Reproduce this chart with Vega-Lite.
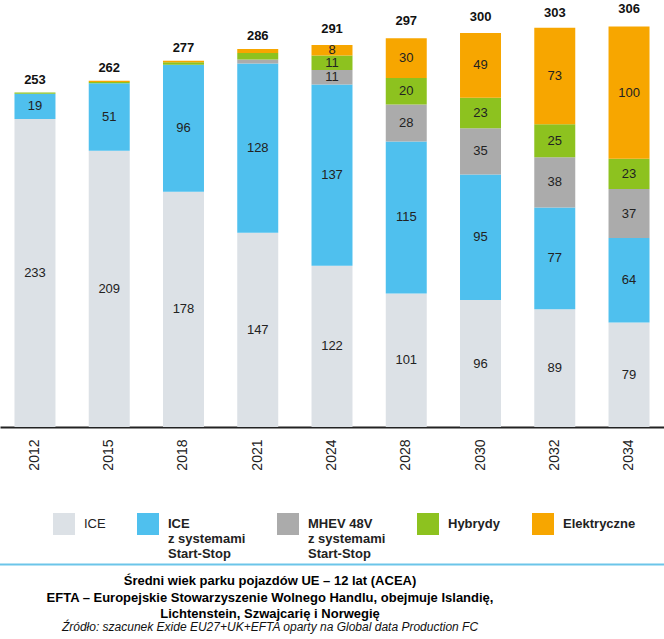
{
  "$schema": "https://vega.github.io/schema/vega-lite/v6.json",
  "width": 664,
  "height": 427,
  "autosize": {"type": "none"},
  "padding": {"left": 0, "top": 0, "right": 0, "bottom": 212},
  "background": "white",
  "config": {"view": {"stroke": null}, "font": "Liberation Sans"},
  "datasets": {
    "seg": [
      {"year": "2012", "cat": "ICE", "order": 1, "value": 233},
      {"year": "2012", "cat": "ICE z systemami Start-Stop", "order": 2, "value": 19},
      {"year": "2012", "cat": "Hybrydy", "order": 4, "value": 1},
      {"year": "2015", "cat": "ICE", "order": 1, "value": 209},
      {"year": "2015", "cat": "ICE z systemami Start-Stop", "order": 2, "value": 51},
      {"year": "2015", "cat": "Hybrydy", "order": 4, "value": 1},
      {"year": "2015", "cat": "Elektryczne", "order": 5, "value": 1},
      {"year": "2018", "cat": "ICE", "order": 1, "value": 178},
      {"year": "2018", "cat": "ICE z systemami Start-Stop", "order": 2, "value": 96},
      {"year": "2018", "cat": "Hybrydy", "order": 4, "value": 2},
      {"year": "2018", "cat": "Elektryczne", "order": 5, "value": 1},
      {"year": "2021", "cat": "ICE", "order": 1, "value": 147},
      {"year": "2021", "cat": "ICE z systemami Start-Stop", "order": 2, "value": 128},
      {"year": "2021", "cat": "MHEV 48V z systemami Start-Stop", "order": 3, "value": 3},
      {"year": "2021", "cat": "Hybrydy", "order": 4, "value": 5},
      {"year": "2021", "cat": "Elektryczne", "order": 5, "value": 3},
      {"year": "2024", "cat": "ICE", "order": 1, "value": 122},
      {"year": "2024", "cat": "ICE z systemami Start-Stop", "order": 2, "value": 137},
      {"year": "2024", "cat": "MHEV 48V z systemami Start-Stop", "order": 3, "value": 11},
      {"year": "2024", "cat": "Hybrydy", "order": 4, "value": 11},
      {"year": "2024", "cat": "Elektryczne", "order": 5, "value": 8},
      {"year": "2028", "cat": "ICE", "order": 1, "value": 101},
      {"year": "2028", "cat": "ICE z systemami Start-Stop", "order": 2, "value": 115},
      {"year": "2028", "cat": "MHEV 48V z systemami Start-Stop", "order": 3, "value": 28},
      {"year": "2028", "cat": "Hybrydy", "order": 4, "value": 20},
      {"year": "2028", "cat": "Elektryczne", "order": 5, "value": 30},
      {"year": "2030", "cat": "ICE", "order": 1, "value": 96},
      {"year": "2030", "cat": "ICE z systemami Start-Stop", "order": 2, "value": 95},
      {"year": "2030", "cat": "MHEV 48V z systemami Start-Stop", "order": 3, "value": 35},
      {"year": "2030", "cat": "Hybrydy", "order": 4, "value": 23},
      {"year": "2030", "cat": "Elektryczne", "order": 5, "value": 49},
      {"year": "2032", "cat": "ICE", "order": 1, "value": 89},
      {"year": "2032", "cat": "ICE z systemami Start-Stop", "order": 2, "value": 77},
      {"year": "2032", "cat": "MHEV 48V z systemami Start-Stop", "order": 3, "value": 38},
      {"year": "2032", "cat": "Hybrydy", "order": 4, "value": 25},
      {"year": "2032", "cat": "Elektryczne", "order": 5, "value": 73},
      {"year": "2034", "cat": "ICE", "order": 1, "value": 79},
      {"year": "2034", "cat": "ICE z systemami Start-Stop", "order": 2, "value": 64},
      {"year": "2034", "cat": "MHEV 48V z systemami Start-Stop", "order": 3, "value": 37},
      {"year": "2034", "cat": "Hybrydy", "order": 4, "value": 23},
      {"year": "2034", "cat": "Elektryczne", "order": 5, "value": 100}
    ],
    "tot": [
      {"year": "2012", "total": 253},
      {"year": "2015", "total": 262},
      {"year": "2018", "total": 277},
      {"year": "2021", "total": 286},
      {"year": "2024", "total": 291},
      {"year": "2028", "total": 297},
      {"year": "2030", "total": 300},
      {"year": "2032", "total": 303},
      {"year": "2034", "total": 306}
    ]
  },
  "title": {
    "text": ["Średni wiek parku pojazdów UE – 12 lat (ACEA)", "EFTA – Europejskie Stowarzyszenie Wolnego Handlu, obejmuje Islandię,", "Lichtenstein, Szwajcarię i Norwegię"],
    "subtitle": "Źródło: szacunek Exide EU27+UK+EFTA oparty na Global data Production FC",
    "orient": "bottom",
    "anchor": "middle",
    "dx": -62,
    "fontSize": 13,
    "fontWeight": "bold",
    "color": "#000",
    "lineHeight": 16.5,
    "subtitleFontSize": 12,
    "subtitleFontStyle": "italic",
    "subtitleColor": "#111",
    "subtitleLineHeight": 15.5,
    "subtitlePadding": 1,
    "offset": 10
  },
  "layer": [
    {
      "data": {"name": "seg"},
      "mark": {"type": "bar"},
      "encoding": {
        "x": {
          "field": "year", "type": "ordinal",
          "scale": {"paddingInner": 0.448, "paddingOuter": 0.195},
          "axis": {"title": null, "labelAngle": 270, "labelFontSize": 14, "labelColor": "#222", "labelPadding": 12, "ticks": false, "domainColor": "#222", "domainWidth": 2}
        },
        "y": {"field": "value", "type": "quantitative", "stack": "zero", "scale": {"domain": [0, 323], "nice": false}, "axis": null},
        "color": {
          "field": "cat", "type": "nominal",
          "scale": {
            "domain": ["ICE", "ICE z systemami Start-Stop", "MHEV 48V z systemami Start-Stop", "Hybrydy", "Elektryczne"],
            "range": ["#DCE1E6", "#4FC0EE", "#ABABAB", "#8DC21F", "#F7A600"]
          },
          "legend": {
            "orient": "none", "legendX": 53, "legendY": 513, "direction": "horizontal", "title": null,
            "symbolType": "square", "symbolSize": 484, "symbolStrokeWidth": 0, "symbolOpacity": 1,
            "labelFontSize": 13, "labelColor": "#222", "labelOffset": 9, "columnPadding": 31,
            "labelBaseline": "top", "labelLimit": 250, "padding": 0,
            "labelExpr": "indexof(datum.label, ' z systemami') > 0 ? [replace(datum.label, ' z systemami Start-Stop', ''), 'z systemami', 'Start-Stop'] : [datum.label, ' ', ' ']",
            "encode": {
              "labels": {"update": {
                "dy": {"value": -6},
                "fontWeight": {"signal": "datum.value === 'ICE' ? 'normal' : 'bold'"}
              }}
            }
          }
        },
        "order": {"field": "order"}
      }
    },
    {
      "data": {"name": "seg"},
      "transform": [
        {"stack": "value", "groupby": ["year"], "sort": [{"field": "order"}], "as": ["v0", "v1"]},
        {"filter": "datum.value >= 8"},
        {"calculate": "(datum.v0 + datum.v1) / 2", "as": "mid"}
      ],
      "mark": {"type": "text", "fontSize": 13, "color": "#222", "baseline": "middle"},
      "encoding": {
        "x": {"field": "year", "type": "ordinal"},
        "y": {"field": "mid", "type": "quantitative"},
        "text": {"field": "value"}
      }
    },
    {
      "data": {"name": "tot"},
      "mark": {"type": "text", "fontSize": 13, "fontWeight": "bold", "color": "#111", "baseline": "bottom", "dy": -6},
      "encoding": {
        "x": {"field": "year", "type": "ordinal"},
        "y": {"field": "total", "type": "quantitative"},
        "text": {"field": "total"}
      }
    },
    {
      "data": {"values": [{}]},
      "mark": {"type": "rule", "color": "#6CC5E9", "strokeWidth": 2},
      "encoding": {"y": {"datum": -104}}
    }
  ]
}
